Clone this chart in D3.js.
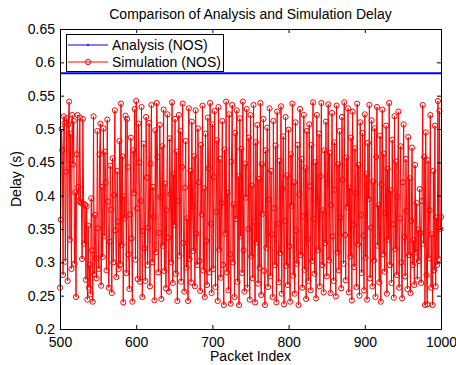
<!DOCTYPE html>
<html><head><meta charset="utf-8">
<script src="https://cdn.jsdelivr.net/npm/d3@7"></script>
<style>body{margin:0;background:#fff}svg{display:block}text{font-family:"Liberation Sans",Arial,sans-serif}</style>
</head><body><svg id="c" width="456" height="365"></svg>
<script>
const title = "Comparison of Analysis and Simulation Delay";
const xLabel = "Packet Index";
const yLabel = "Delay (s)";
const seriesNames = ["Analysis (NOS)", "Simulation (NOS)"];
const xTicks = [500, 600, 700, 800, 900, 1000];
const yTicks = [0.2, 0.25, 0.3, 0.35, 0.4, 0.45, 0.5, 0.55, 0.6, 0.65];
const yTickLabels = ["0.2","0.25","0.3","0.35","0.4","0.45","0.5","0.55","0.6","0.65"];
const startIndex = 500;
const analysisDelay = 0.5835;
const simulationDelay = [
0.262,0.364,0.500,0.468,0.281,0.519,0.509,0.301,0.436,0.516,0.272,0.507,0.541,0.334,0.493,0.290,0.521,0.447,0.512,0.298,0.405,0.248,0.462,0.521,0.413,
0.392,0.517,0.390,0.389,0.305,0.515,0.388,0.328,0.386,0.274,0.384,0.244,0.355,0.262,0.296,0.252,0.396,0.318,0.241,0.519,0.282,0.371,0.306,0.276,0.497,
0.351,0.290,0.462,0.508,0.265,0.413,0.308,0.501,0.339,0.466,0.420,0.288,0.514,0.391,0.262,0.331,0.445,0.379,0.254,0.456,0.300,0.401,0.528,0.348,0.278,
0.437,0.361,0.290,0.482,0.297,0.538,0.326,0.459,0.240,0.399,0.366,0.520,0.284,0.515,0.443,0.312,0.260,0.372,0.487,0.336,0.241,0.468,0.404,0.530,0.304,
0.542,0.381,0.275,0.508,0.450,0.271,0.392,0.533,0.248,0.347,0.478,0.321,0.272,0.518,0.427,0.296,0.352,0.509,0.264,0.448,0.536,0.300,0.413,0.368,0.243,
0.498,0.315,0.539,0.458,0.285,0.344,0.506,0.398,0.245,0.474,0.325,0.529,0.287,0.418,0.261,0.378,0.522,0.337,0.256,0.486,0.402,0.300,0.540,0.269,0.432,
0.356,0.515,0.283,0.466,0.242,0.392,0.521,0.310,0.497,0.271,0.443,0.538,0.329,0.256,0.412,0.482,0.292,0.366,0.242,0.531,0.305,0.437,0.270,0.511,0.384,
0.317,0.459,0.264,0.528,0.343,0.296,0.501,0.420,0.302,0.257,0.476,0.372,0.535,0.288,0.411,0.248,0.493,0.332,0.266,0.517,0.441,0.285,0.539,0.358,0.254,
0.507,0.290,0.428,0.527,0.263,0.376,0.483,0.242,0.533,0.319,0.455,0.277,0.389,0.512,0.296,0.236,0.469,0.343,0.541,0.285,0.404,0.258,0.522,0.312,0.238,
0.451,0.536,0.300,0.387,0.248,0.494,0.365,0.528,0.271,0.429,0.236,0.516,0.339,0.470,0.284,0.541,0.318,0.256,0.448,0.397,0.530,0.262,0.350,0.487,0.244,
0.521,0.309,0.415,0.276,0.536,0.361,0.240,0.480,0.330,0.506,0.268,0.425,0.292,0.539,0.251,0.447,0.373,0.515,0.287,0.236,0.468,0.322,0.502,0.263,0.394,
0.531,0.279,0.437,0.342,0.248,0.512,0.381,0.296,0.475,0.240,0.526,0.358,0.270,0.452,0.314,0.534,0.253,0.410,0.489,0.237,0.362,0.518,0.295,0.430,0.266,
0.499,0.324,0.241,0.462,0.385,0.538,0.280,0.420,0.253,0.510,0.348,0.298,0.476,0.236,0.402,0.530,0.311,0.455,0.262,0.369,0.521,0.289,0.441,0.245,0.497,
0.335,0.272,0.507,0.414,0.258,0.476,0.302,0.540,0.365,0.283,0.450,0.246,0.521,0.392,0.318,0.493,0.264,0.429,0.539,0.296,0.378,0.255,0.468,0.329,0.511,
0.279,0.419,0.537,0.303,0.464,0.254,0.386,0.524,0.339,0.272,0.480,0.409,0.249,0.535,0.315,0.447,0.288,0.497,0.367,0.261,0.518,0.424,0.298,0.540,0.341,
0.273,0.457,0.383,0.531,0.255,0.412,0.309,0.487,0.243,0.526,0.356,0.293,0.471,0.404,0.263,0.538,0.327,0.446,0.250,0.510,0.371,0.284,0.494,0.340,0.258,
0.522,0.307,0.432,0.244,0.479,0.395,0.536,0.276,0.352,0.513,0.264,0.421,0.303,0.501,0.248,0.458,0.533,0.325,0.386,0.270,0.490,0.241,0.417,0.529,0.312,
0.463,0.286,0.374,0.505,0.253,0.440,0.334,0.539,0.296,0.408,0.269,0.484,0.357,0.247,0.519,0.320,0.451,0.281,0.398,0.526,0.262,0.366,0.474,0.300,0.246,
0.420,0.507,0.338,0.279,0.455,0.377,0.260,0.488,0.311,0.426,0.254,0.362,0.472,0.296,0.333,0.266,0.446,0.315,0.389,0.274,0.349,0.302,0.410,0.344,0.269,
0.392,0.536,0.328,0.458,0.236,0.495,0.281,0.237,0.453,0.306,0.378,0.521,0.262,0.342,0.236,0.437,0.288,0.505,0.264,0.367,0.296,0.542,0.305,0.527,0.350,
0.368];

const svg = d3.select("#c");
const L = 60, R = 441, T = 29, B = 329;
const x = d3.scaleLinear().domain([500, 1000]).range([L, R]);
const y = d3.scaleLinear().domain([0.2, 0.65]).range([B, T]);
const pts = simulationDelay.map((v, i) => [startIndex + i, v]);
const FONT = '"Liberation Sans",Arial,sans-serif';

const plot = svg.append("g");
plot.append("rect").attr("x", L).attr("y", T).attr("width", R - L).attr("height", B - T).attr("fill", "#fff");

// Analysis line
plot.append("line").attr("x1", x(500)).attr("x2", x(1000))
  .attr("y1", y(analysisDelay)).attr("y2", y(analysisDelay))
  .attr("stroke", "#0000ff").attr("stroke-width", 2);

// Simulation line
const line = d3.line().x(d => x(d[0])).y(d => y(d[1]));
plot.append("path").datum(pts).attr("d", line).attr("fill", "none")
  .attr("stroke", "#ff0000").attr("stroke-width", 1);
plot.selectAll("circle.m").data(pts).join("circle").attr("class", "m")
  .attr("cx", d => x(d[0])).attr("cy", d => y(d[1])).attr("r", 2.6)
  .attr("fill", "none").attr("stroke", "#ff0000").attr("stroke-width", 1);

// Axes
const fs = 14;
const axB = svg.append("g").attr("transform", `translate(0,${B})`)
  .call(d3.axisBottom(x).tickValues(xTicks).tickSize(-4).tickPadding(8).tickFormat(d3.format("d")));
const axT = svg.append("g").attr("transform", `translate(0,${T})`)
  .call(d3.axisTop(x).tickValues(xTicks).tickSize(-4).tickFormat(""));
const axL = svg.append("g").attr("transform", `translate(${L},0)`)
  .call(d3.axisLeft(y).tickValues(yTicks).tickSize(-4).tickPadding(5).tickFormat((d, i) => yTickLabels[i]));
const axRt = svg.append("g").attr("transform", `translate(${R},0)`)
  .call(d3.axisRight(y).tickValues(yTicks).tickSize(-4).tickFormat(""));
[axB, axT, axL, axRt].forEach(g => {
  g.select(".domain").attr("stroke", "#000").attr("stroke-width", 1);
  g.selectAll(".tick line").attr("stroke", "#000");
  g.selectAll("text").attr("font-size", fs).attr("fill", "#000").attr("font-family", FONT);
});

// Title & labels
svg.append("text").attr("x", (L + R) / 2).attr("y", 18.5).attr("text-anchor", "middle")
  .attr("font-size", 14).text(title);
svg.append("text").attr("x", (L + R) / 2).attr("y", 361).attr("text-anchor", "middle")
  .attr("font-size", fs).text(xLabel);
svg.append("text").attr("transform", `translate(21,${(T + B) / 2}) rotate(-90)`)
  .attr("text-anchor", "middle").attr("font-size", fs).text(yLabel);

// Legend
const lg = svg.append("g");
lg.append("rect").attr("x", 66.5).attr("y", 34.5).attr("width", 157).attr("height", 37)
  .attr("fill", "#fff").attr("stroke", "#000").attr("stroke-width", 1);
const rows = [
  {name: seriesNames[0], color: "#0000ff", y: 45, marker: "dot"},
  {name: seriesNames[1], color: "#ff0000", y: 62, marker: "circle"}
];
rows.forEach(r => {
  lg.append("line").attr("x1", 68).attr("x2", 108).attr("y1", r.y).attr("y2", r.y)
    .attr("stroke", r.color).attr("stroke-width", 1);
  if (r.marker === "dot") {
    lg.append("circle").attr("cx", 88).attr("cy", r.y).attr("r", 1).attr("fill", r.color);
  } else {
    lg.append("circle").attr("cx", 88).attr("cy", r.y).attr("r", 2.6).attr("fill", "none").attr("stroke", r.color);
  }
  lg.append("text").attr("x", 112).attr("y", r.y + 5).attr("font-size", 14).text(r.name);
});
</script></body></html>
